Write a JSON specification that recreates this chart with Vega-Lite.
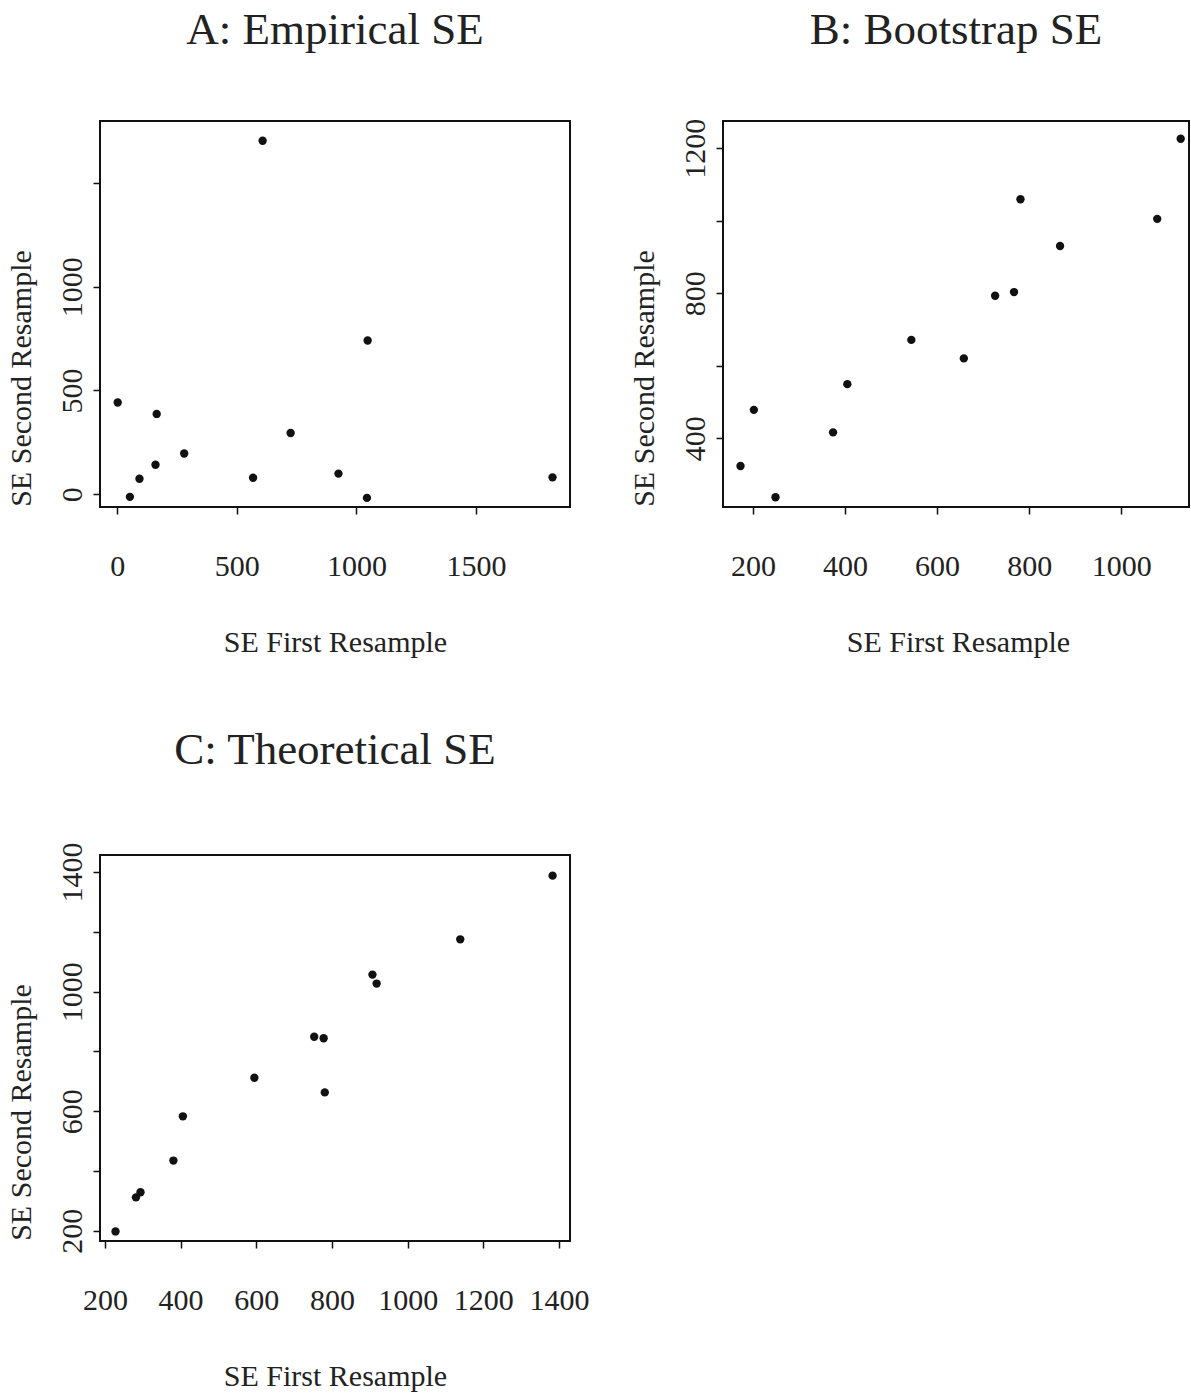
{
  "$schema": "https://vega.github.io/schema/vega-lite/v6.json",
  "padding": {"left": 5, "top": 7, "right": 0, "bottom": 0},
  "background": "white",
  "data": {
    "values": [
      {"panel": "A", "first": 2, "second": 442},
      {"panel": "A", "first": 53, "second": -13},
      {"panel": "A", "first": 93, "second": 74},
      {"panel": "A", "first": 160, "second": 142},
      {"panel": "A", "first": 165, "second": 387},
      {"panel": "A", "first": 280, "second": 196},
      {"panel": "A", "first": 568, "second": 79},
      {"panel": "A", "first": 608, "second": 1705},
      {"panel": "A", "first": 725, "second": 295},
      {"panel": "A", "first": 925, "second": 99},
      {"panel": "A", "first": 1047, "second": 741},
      {"panel": "A", "first": 1044, "second": -18},
      {"panel": "A", "first": 1820, "second": 81},
      {"panel": "B", "first": 173, "second": 323},
      {"panel": "B", "first": 202, "second": 478},
      {"panel": "B", "first": 249, "second": 237},
      {"panel": "B", "first": 374, "second": 416},
      {"panel": "B", "first": 405, "second": 549},
      {"panel": "B", "first": 544, "second": 671},
      {"panel": "B", "first": 658, "second": 620},
      {"panel": "B", "first": 726, "second": 793},
      {"panel": "B", "first": 767, "second": 803},
      {"panel": "B", "first": 781, "second": 1059},
      {"panel": "B", "first": 867, "second": 930},
      {"panel": "B", "first": 1078, "second": 1005},
      {"panel": "B", "first": 1129, "second": 1226},
      {"panel": "C", "first": 228, "second": 198},
      {"panel": "C", "first": 282, "second": 312},
      {"panel": "C", "first": 294, "second": 329},
      {"panel": "C", "first": 381, "second": 435},
      {"panel": "C", "first": 406, "second": 583},
      {"panel": "C", "first": 595, "second": 712},
      {"panel": "C", "first": 753, "second": 849},
      {"panel": "C", "first": 778, "second": 844},
      {"panel": "C", "first": 781, "second": 663},
      {"panel": "C", "first": 907, "second": 1057},
      {"panel": "C", "first": 918, "second": 1027},
      {"panel": "C", "first": 1139, "second": 1175},
      {"panel": "C", "first": 1383, "second": 1388}
    ]
  },
  "columns": 2,
  "spacing": {"row": 348, "column": 153},
  "bounds": "flush",
  "concat": [
    {
      "title": {"text": "A: Empirical SE", "offset": 68},
      "width": 470,
      "height": 386,
      "transform": [{"filter": "datum.panel == 'A'"}],
      "mark": {"type": "circle", "size": 70, "color": "#111", "opacity": 1},
      "encoding": {
        "x": {"field": "first", "type": "quantitative", "scale": {"domain": [-72, 1893], "nice": false, "zero": false}, "axis": {"values": [0, 500, 1000, 1500], "title": "SE First Resample"}},
        "y": {"field": "second", "type": "quantitative", "scale": {"domain": [-62, 1800], "nice": false, "zero": false}, "axis": {"values": [0, 500, 1000, 1500], "labelExpr": "datum.value == 1500 ? '' : datum.label", "title": "SE Second Resample"}}
      }
    },
    {
      "title": {"text": "B: Bootstrap SE", "offset": 65},
      "width": 466,
      "height": 386,
      "transform": [{"filter": "datum.panel == 'B'"}],
      "mark": {"type": "circle", "size": 70, "color": "#111", "opacity": 1},
      "encoding": {
        "x": {"field": "first", "type": "quantitative", "scale": {"domain": [135, 1147], "nice": false, "zero": false}, "axis": {"values": [200, 400, 600, 800, 1000], "title": "SE First Resample"}},
        "y": {"field": "second", "type": "quantitative", "scale": {"domain": [210, 1275], "nice": false, "zero": false}, "axis": {"values": [400, 600, 800, 1000, 1200], "labelExpr": "(datum.value == 600 || datum.value == 1000) ? '' : datum.label", "title": "SE Second Resample"}}
      }
    },
    {
      "title": {"text": "C: Theoretical SE", "offset": 69},
      "width": 470,
      "height": 386,
      "transform": [{"filter": "datum.panel == 'C'"}],
      "mark": {"type": "circle", "size": 70, "color": "#111", "opacity": 1},
      "encoding": {
        "x": {"field": "first", "type": "quantitative", "scale": {"domain": [187, 1429], "nice": false, "zero": false}, "axis": {"values": [200, 400, 600, 800, 1000, 1200, 1400], "title": "SE First Resample"}},
        "y": {"field": "second", "type": "quantitative", "scale": {"domain": [166, 1457], "nice": false, "zero": false}, "axis": {"values": [200, 400, 600, 800, 1000, 1200, 1400], "labelExpr": "(datum.value == 400 || datum.value == 800 || datum.value == 1200) ? '' : datum.label", "title": "SE Second Resample"}}
      }
    }
  ],
  "config": {
    "view": {"stroke": "#111", "strokeWidth": 2},
    "title": {"font": "Liberation Serif", "fontSize": 45, "fontWeight": "normal", "color": "#222", "baseline": "alphabetic", "frame": "group", "anchor": "middle"},
    "axis": {
      "grid": false,
      "domain": false,
      "ticks": true,
      "format": "d",
      "tickColor": "#111",
      "tickSize": 7,
      "tickWidth": 1.5,
      "labelFont": "Liberation Serif",
      "labelFontSize": 30,
      "labelColor": "#222",
      "titleFont": "Liberation Serif",
      "titleFontSize": 30,
      "titleFontWeight": "normal",
      "titleColor": "#222",
      "labelOverlap": false,
      "labelFlush": false,
      "labelBound": false
    },
    "axisX": {"labelBaseline": "alphabetic", "labelPadding": 61, "titleBaseline": "alphabetic", "titleY": 144, "titleX": 235, "titleAlign": "center"},
    "axisY": {"labelAngle": 270, "labelAlign": "center", "labelBaseline": "alphabetic", "labelPadding": 12, "titleAngle": 270, "titleBaseline": "alphabetic", "titleX": -70, "titleY": 257, "titleAlign": "center"}
  }
}
